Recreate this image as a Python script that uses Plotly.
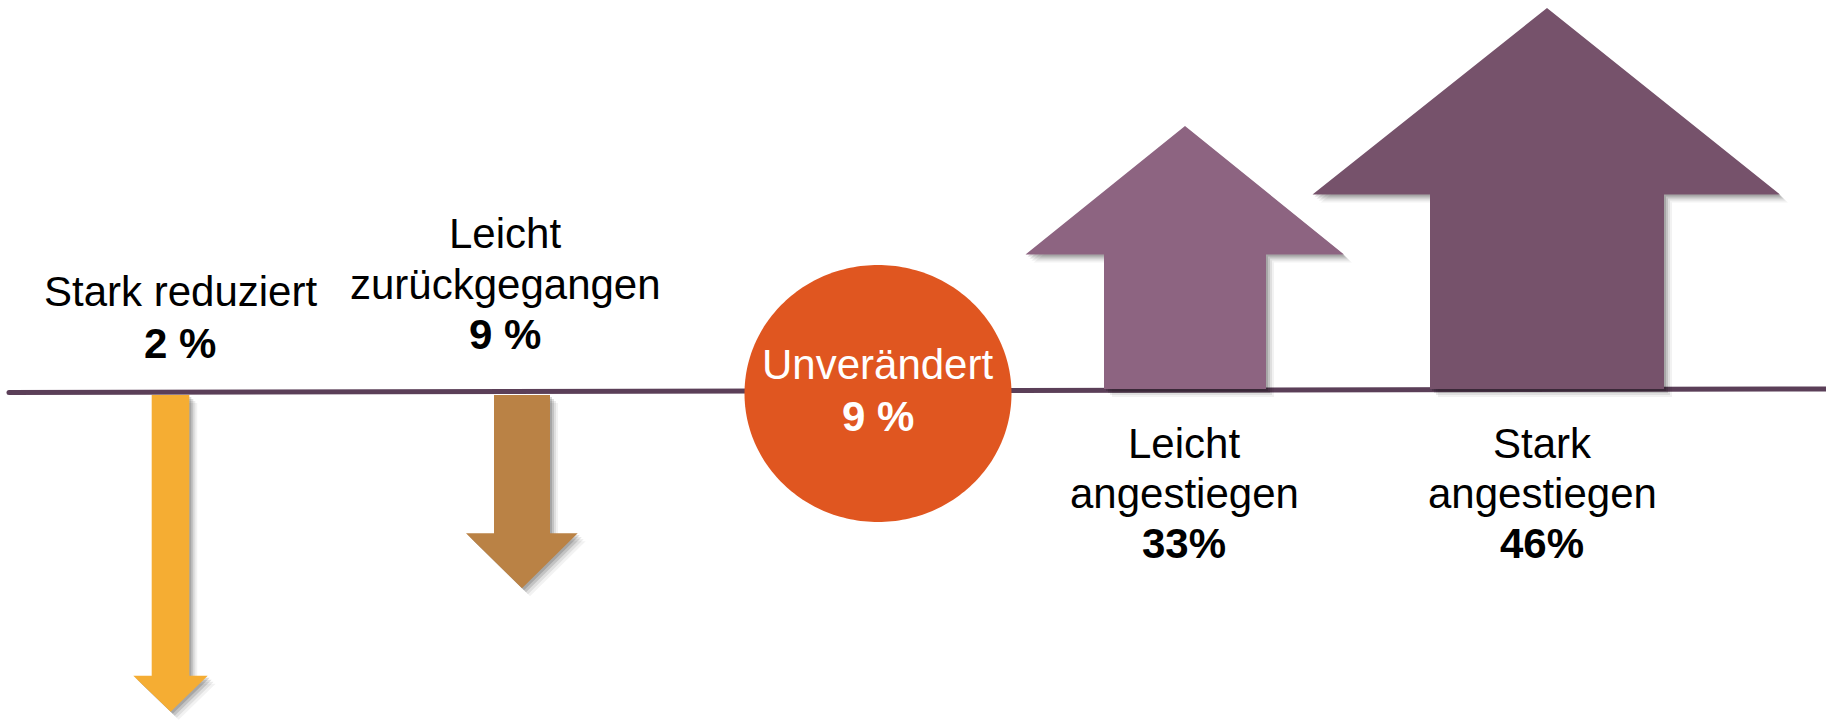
import numpy as np
import plotly.graph_objects as go

# ---- data ----
categories = ["Stark reduziert", "Leicht zurückgegangen", "Unverändert",
              "Leicht angestiegen", "Stark angestiegen"]
label_lines = [["Stark reduziert"], ["Leicht", "zurückgegangen"], ["Unverändert"],
               ["Leicht", "angestiegen"], ["Stark", "angestiegen"]]
values = [2, 9, 9, 33, 46]
value_labels = ["2 %", "9 %", "9 %", "33%", "46%"]

# ---- layout / geometry (pixels of the 1826x721 page) ----
W, H = 1826, 721
FONT = "Liberation Sans, Arial, sans-serif"
colors = ["#F5AD33", "#BA8245", "#E05620", "#8D6481", "#76526B"]
line_color = "#5B3F58"

# arrows: (shaft_x0, shaft_x1, base_y, head_y, head_x0, head_x1, tip_x, tip_y)
arrow_geom = {
    0: (151.7, 189.3, 395, 675.7, 133.3, 207.7, 170.7, 711.7),
    1: (494, 550, 395, 533.3, 466, 577.7, 522, 588.3),
    3: (1104, 1266, 389, 254.5, 1025.5, 1344, 1185, 126),
    4: (1430, 1664, 389, 194.5, 1312.5, 1780, 1547, 8),
}
circle_geom = (878, 393.5, 133.5, 128.5)  # cx, cy, rx, ry

# text line positions: (x_center, [y_mid per text line], y_mid of value)
text_geom = {
    0: (180, [291.3], 343),
    1: (505, [233.3, 284.3], 334.3),
    2: (877.5, [364], 416),
    3: (1184, [443, 493], 543),
    4: (1542, [443, 493], 543),
}

fig = go.Figure()

# baseline
fig.add_trace(go.Scatter(x=[9, W], y=[392.5, 389], mode="lines",
                         line=dict(color=line_color, width=5),
                         hoverinfo="skip", showlegend=False))
fig.add_trace(go.Scatter(x=[9], y=[392.5], mode="markers",
                         marker=dict(color=line_color, size=5),
                         hoverinfo="skip", showlegend=False))


def arrow_poly(g):
    sx0, sx1, by, hy, hx0, hx1, tx, ty = g
    xs = [sx0, sx1, sx1, hx1, tx, hx0, sx0, sx0]
    ys = [by, by, hy, hy, ty, hy, hy, by]
    return np.array(xs, float), np.array(ys, float)


# shadows
for i, g in arrow_geom.items():
    xs, ys = arrow_poly(g)
    for off, alpha in [(8, 0.05), (6, 0.08), (4, 0.12), (2, 0.15)]:
        fig.add_trace(go.Scatter(x=xs + off, y=ys + off, fill="toself",
                                 fillcolor=f"rgba(0,0,0,{alpha})", mode="none",
                                 hoverinfo="skip", showlegend=False))

# arrows
for i, g in arrow_geom.items():
    xs, ys = arrow_poly(g)
    fig.add_trace(go.Scatter(x=xs, y=ys, fill="toself", fillcolor=colors[i],
                             mode="none", name=categories[i],
                             hovertext=f"{categories[i]}: {values[i]} %",
                             hoverinfo="text", showlegend=False))

# circle
cx, cy, rx, ry = circle_geom
t = np.linspace(0, 2 * np.pi, 241)
fig.add_trace(go.Scatter(x=cx + rx * np.cos(t), y=cy + ry * np.sin(t), fill="toself",
                         fillcolor=colors[2], mode="none", name=categories[2],
                         hovertext=f"{categories[2]}: {values[2]} %",
                         hoverinfo="text", showlegend=False))

# texts
annotations = []
for i in range(len(categories)):
    xc, ys_lines, yv = text_geom[i]
    tcol = "white" if i == 2 else "black"
    for line, yl in zip(label_lines[i], ys_lines):
        annotations.append(dict(x=xc, y=yl, xref="x", yref="y", text=line,
                                showarrow=False, xanchor="center", yanchor="middle",
                                font=dict(family=FONT, size=42, color=tcol)))
    annotations.append(dict(x=xc, y=yv, xref="x", yref="y",
                            text=f"<b>{value_labels[i]}</b>",
                            showarrow=False, xanchor="center", yanchor="middle",
                            font=dict(family=FONT, size=42, color=tcol)))

fig.update_layout(
    width=W, height=H, autosize=False,
    margin=dict(l=0, r=0, t=0, b=0),
    paper_bgcolor="white", plot_bgcolor="white",
    xaxis=dict(range=[0, W], visible=False, fixedrange=True),
    yaxis=dict(range=[H, 0], visible=False, fixedrange=True),
    annotations=annotations,
    showlegend=False,
)

fig.write_html("out.html", config={"displayModeBar": False},
               post_script="document.body.style.margin='0';"
                           "document.body.style.overflow='hidden';")
